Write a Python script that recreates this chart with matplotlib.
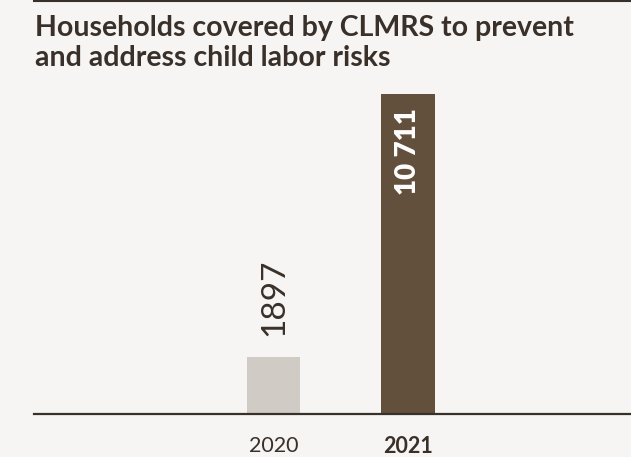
import matplotlib
matplotlib.use("Agg")
import matplotlib.pyplot as plt
from matplotlib.lines import Line2D

# Data
years = ["2020", "2021"]
households = [1897, 10711]
value_labels = ["1897", "10 711"]
title = "Households covered by CLMRS to prevent\nand address child labor risks"

# Styling
bg = "#f6f5f3"
ink = "#3a302a"
bar_colors = ["#d0cbc4", "#62503c"]
family = ["Lato", "DejaVu Sans"]

fig = plt.figure(figsize=(6.31, 4.57), dpi=100, facecolor=bg)
W, H = 631, 457
ax = fig.add_axes([34 / W, 43 / H, 1 - 34 / W, 340 / H], facecolor=bg)

x = list(range(len(years)))
ax.bar(x, households, width=0.396, color=bar_colors, zorder=2)
ax.set_xlim(-1.79, 2.664)
ax.set_ylim(0, 10711 * 340 / 320)

for s in ["top", "right", "left"]:
    ax.spines[s].set_visible(False)
ax.spines["bottom"].set_color(ink)
ax.spines["bottom"].set_linewidth(1.6)
ax.set_yticks([])
ax.set_xticks(x)
ax.set_xticklabels(years, fontsize=15.5, color=ink, family=family)
ax.tick_params(axis="x", length=0, pad=16)
ax.get_xticklabels()[0].set_fontweight("normal")
ax.get_xticklabels()[1].set_fontweight("bold")

# Value labels
ax.annotate(value_labels[0], (x[0], households[0]), xytext=(0, 15),
            textcoords="offset points", rotation=90, ha="center", va="bottom",
            fontsize=24, fontweight="normal", color=ink, family=family)
ax.annotate(value_labels[1], (x[1], households[1]), xytext=(0, -10),
            textcoords="offset points", rotation=90, ha="center", va="top",
            fontsize=20, fontweight="heavy", color="white", family=family)

# Title and top rule
fig.text(35 / W, 1 - 15 / H, title, ha="left", va="top", fontsize=20.5,
         fontweight="bold", color=ink, family=family, linespacing=1.2)
fig.add_artist(Line2D([34 / W, 1], [1 - 0.8 / H, 1 - 0.8 / H],
                      transform=fig.transFigure, color=ink, linewidth=1.5))

fig.savefig("out.png", dpi=100, facecolor=bg)
